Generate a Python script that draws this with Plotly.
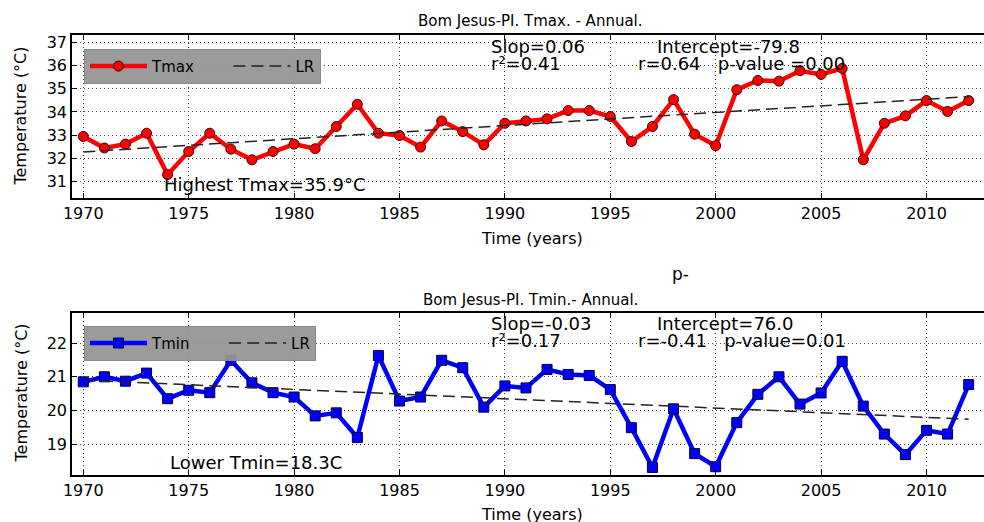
import numpy as np
import plotly.graph_objects as go
from plotly.subplots import make_subplots

years = list(range(1970, 2013))
tmax = [32.94, 32.44, 32.61, 33.08, 31.29, 32.29, 33.08, 32.39, 31.93, 32.29,
        32.61, 32.41, 33.37, 34.33, 33.08, 32.98, 32.48, 33.61, 33.15, 32.58,
        33.51, 33.61, 33.70, 34.06, 34.06, 33.80, 32.72, 33.37, 34.53, 33.04,
        32.54, 34.96, 35.36, 35.33, 35.78, 35.62, 35.88, 31.93, 33.51, 33.83,
        34.49, 34.02, 34.49]
tmin = [20.85, 21.00, 20.87, 21.11, 20.35, 20.60, 20.53, 21.49, 20.82, 20.53,
        20.40, 19.84, 19.93, 19.20, 21.63, 20.28, 20.40, 21.49, 21.27, 20.10,
        20.73, 20.67, 21.22, 21.07, 21.04, 20.62, 19.49, 18.31, 20.05, 18.72,
        18.33, 19.64, 20.48, 21.00, 20.19, 20.52, 21.46, 20.13, 19.30, 18.69,
        19.41, 19.30, 20.77]
xticks = [1970, 1975, 1980, 1985, 1990, 1995, 2000, 2005, 2010]
yticks_top = [31, 32, 33, 34, 35, 36, 37]
yticks_bot = [19, 20, 21, 22]

W, H = 984, 522
L = 72
PW = W - L
FONT = "DejaVu Sans"
NB = "\u00a0"


def px(x):
    return (x - L) / PW


def py(y):
    return 1 - y / H


yr = np.array(years, dtype=float)
fit_max = np.polyval(np.polyfit(yr, tmax, 1), yr)
fit_min = np.polyval(np.polyfit(yr, tmin, 1), yr)

fig = make_subplots(rows=2, cols=1)

fig.add_trace(go.Scatter(x=years, y=tmax, mode="lines+markers", name="Tmax" + NB * 6,
                         line=dict(color="#ff0000", width=4.5),
                         marker=dict(symbol="circle", size=10, color="#ff0000",
                                     line=dict(color="#400000", width=1)),
                         legend="legend"), row=1, col=1)
fig.add_trace(go.Scatter(x=years, y=fit_max, mode="lines", name="LR",
                         line=dict(color="#222222", width=1.5, dash="12px,6px"),
                         legend="legend"), row=1, col=1)
fig.add_trace(go.Scatter(x=years, y=tmin, mode="lines+markers", name="Tmin" + NB * 6,
                         line=dict(color="#0000ff", width=4.5),
                         marker=dict(symbol="square", size=10, color="#0000ff",
                                     line=dict(color="#000040", width=1)),
                         legend="legend2"), row=2, col=1)
fig.add_trace(go.Scatter(x=years, y=fit_min, mode="lines", name="LR",
                         line=dict(color="#222222", width=1.5, dash="12px,6px"),
                         legend="legend2"), row=2, col=1)

xr = [1970 - 11.3 / 21.08, 1970 - 11.3 / 21.08 + PW / 21.08]
axis_common = dict(showline=True, linecolor="black", linewidth=1.5,
                   ticks="inside", ticklen=5, tickcolor="black",
                   showgrid=True, gridcolor="#444444", griddash="1px,3px",
                   gridwidth=1, zeroline=False,
                   tickfont=dict(family=FONT, size=16, color="black"))
fig.update_xaxes(range=xr, tickvals=xticks, mirror="ticks", **axis_common)
fig.update_yaxes(mirror=False, **axis_common)
fig.update_xaxes(domain=[0, 1])
fig.update_yaxes(range=[30.27, 37.33], tickvals=yticks_top,
                 domain=[py(197), py(33)], row=1, col=1)
fig.update_yaxes(range=[18.08, 22.9], tickvals=yticks_bot,
                 domain=[py(475), py(312)], row=2, col=1)

leg_common = dict(orientation="h", bgcolor="rgba(150,150,150,0.95)",
                  bordercolor="#8a8a8a", borderwidth=1,
                  font=dict(family=FONT, size=15, color="black"),
                  itemwidth=57,
                  xanchor="left", yanchor="top")
fig.update_layout(
    width=W, height=H,
    margin=dict(l=L, r=0, t=0, b=0),
    plot_bgcolor="white", paper_bgcolor="white",
    font=dict(family=FONT, color="black"),
    legend=dict(x=px(84), y=py(47), **leg_common),
    legend2=dict(x=px(84), y=py(325), **leg_common),
)

ann = []


def add(text, x, y, size=18, xanchor="left", angle=0):
    ann.append(dict(text=text, x=px(x), y=py(y), xref="paper", yref="paper",
                    xanchor=xanchor, yanchor="middle", showarrow=False,
                    textangle=angle,
                    font=dict(family=FONT, size=size, color="black")))


add("Bom Jesus-PI. Tmax. - Annual.", 530, 19, size=15, xanchor="center")
add("Bom Jesus-PI. Tmin.- Annual.", 530, 299, size=15, xanchor="center")
add("p-", 680, 273, size=17, xanchor="center")
add("Time (years)", 532, 237, size=16, xanchor="center")
add("Time (years)", 532, 514, size=16, xanchor="center")
add("Temperature (°C)", 21, 115, size=16, xanchor="center", angle=-90)
add("Temperature (°C)", 21, 393, size=16, xanchor="center", angle=-90)

add("Slop=0.06", 489, 45)
add("r²=0.41", 489, 62)
add("Intercept=-79.8", 655, 45)
add("r=0.64   p-value =0.00", 636, 62)
add("Highest Tmax=35.9°C", 162, 183)

add("Slop=-0.03", 489, 323)
add("r²=0.17", 489, 340)
add("Intercept=76.0", 655, 323)
add("r=-0.41   p-value=0.01", 636, 340)
add("Lower Tmin=18.3C", 168, 462)

fig.update_layout(annotations=ann)
fig.write_html("out.html", config={"displayModeBar": False},
               post_script="document.body.style.margin='0';document.body.style.padding='0';")
